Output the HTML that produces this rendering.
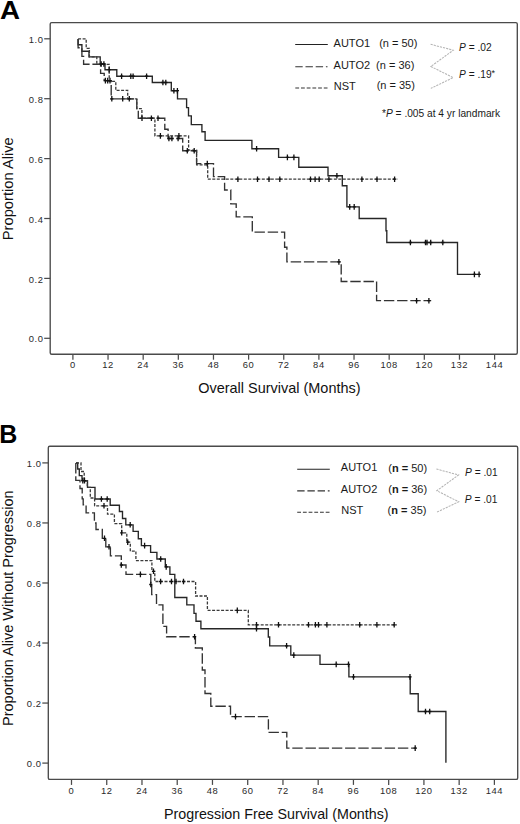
<!DOCTYPE html>
<html><head><meta charset="utf-8"><style>
html,body{margin:0;padding:0;background:#fff;width:520px;height:824px;overflow:hidden}
svg{display:block}
text{font-family:"Liberation Sans", sans-serif;fill:#1a1a1a}
.tk{font-size:9.4px;fill:#2a2a2a;letter-spacing:0.6px}
.pl{font-size:25px;font-weight:bold;fill:#000}
.at{font-size:14.4px;fill:#111}
.lg{font-size:11px;fill:#1a1a1a}
.pv{font-size:10.2px;fill:#1a1a1a}
.lg2{font-size:10.2px;fill:#1a1a1a}
.ls{stroke:#222;stroke-width:1.1}
.ld{stroke:#333;stroke-width:1.1;stroke-dasharray:7.4 2.8}
.lo{stroke:#333;stroke-width:1.1;stroke-dasharray:3.8 1.9}
.zz{fill:none;stroke:#b4b4b4;stroke-width:1.05;stroke-dasharray:2.2 1}
.cs{stroke:#111;stroke-width:1.3;fill:none}
.c1{fill:none;stroke:#262626;stroke-width:1.35}
.c2{fill:none;stroke:#333;stroke-width:1.35;stroke-dasharray:10.4 2.8}
.c3{fill:none;stroke:#3a3a3a;stroke-width:1.3;stroke-dasharray:3 1.5}
</style></head><body>
<svg width="520" height="824" viewBox="0 0 520 824">
<rect x="50.2" y="22.6" width="467.10" height="331.60" rx="1.5" fill="none" stroke="#4a4a4a" stroke-width="1.35"/>
<line x1="44.20" y1="338.30" x2="50.20" y2="338.30" stroke="#4a4a4a" stroke-width="1.25"/>
<text x="43.60" y="342.40" text-anchor="end" class="tk">0.0</text>
<line x1="44.20" y1="278.40" x2="50.20" y2="278.40" stroke="#4a4a4a" stroke-width="1.25"/>
<text x="43.60" y="282.50" text-anchor="end" class="tk">0.2</text>
<line x1="44.20" y1="218.50" x2="50.20" y2="218.50" stroke="#4a4a4a" stroke-width="1.25"/>
<text x="43.60" y="222.60" text-anchor="end" class="tk">0.4</text>
<line x1="44.20" y1="158.60" x2="50.20" y2="158.60" stroke="#4a4a4a" stroke-width="1.25"/>
<text x="43.60" y="162.70" text-anchor="end" class="tk">0.6</text>
<line x1="44.20" y1="98.70" x2="50.20" y2="98.70" stroke="#4a4a4a" stroke-width="1.25"/>
<text x="43.60" y="102.80" text-anchor="end" class="tk">0.8</text>
<line x1="44.20" y1="38.80" x2="50.20" y2="38.80" stroke="#4a4a4a" stroke-width="1.25"/>
<text x="43.60" y="42.90" text-anchor="end" class="tk">1.0</text>
<line x1="72.90" y1="354.20" x2="72.90" y2="359.70" stroke="#4a4a4a" stroke-width="1.25"/>
<text x="72.90" y="368.30" text-anchor="middle" class="tk">0</text>
<line x1="108.04" y1="354.20" x2="108.04" y2="359.70" stroke="#4a4a4a" stroke-width="1.25"/>
<text x="108.04" y="368.30" text-anchor="middle" class="tk">12</text>
<line x1="143.18" y1="354.20" x2="143.18" y2="359.70" stroke="#4a4a4a" stroke-width="1.25"/>
<text x="143.18" y="368.30" text-anchor="middle" class="tk">24</text>
<line x1="178.33" y1="354.20" x2="178.33" y2="359.70" stroke="#4a4a4a" stroke-width="1.25"/>
<text x="178.33" y="368.30" text-anchor="middle" class="tk">36</text>
<line x1="213.47" y1="354.20" x2="213.47" y2="359.70" stroke="#4a4a4a" stroke-width="1.25"/>
<text x="213.47" y="368.30" text-anchor="middle" class="tk">48</text>
<line x1="248.61" y1="354.20" x2="248.61" y2="359.70" stroke="#4a4a4a" stroke-width="1.25"/>
<text x="248.61" y="368.30" text-anchor="middle" class="tk">60</text>
<line x1="283.75" y1="354.20" x2="283.75" y2="359.70" stroke="#4a4a4a" stroke-width="1.25"/>
<text x="283.75" y="368.30" text-anchor="middle" class="tk">72</text>
<line x1="318.89" y1="354.20" x2="318.89" y2="359.70" stroke="#4a4a4a" stroke-width="1.25"/>
<text x="318.89" y="368.30" text-anchor="middle" class="tk">84</text>
<line x1="354.03" y1="354.20" x2="354.03" y2="359.70" stroke="#4a4a4a" stroke-width="1.25"/>
<text x="354.03" y="368.30" text-anchor="middle" class="tk">96</text>
<line x1="389.18" y1="354.20" x2="389.18" y2="359.70" stroke="#4a4a4a" stroke-width="1.25"/>
<text x="389.18" y="368.30" text-anchor="middle" class="tk">108</text>
<line x1="424.32" y1="354.20" x2="424.32" y2="359.70" stroke="#4a4a4a" stroke-width="1.25"/>
<text x="424.32" y="368.30" text-anchor="middle" class="tk">120</text>
<line x1="459.46" y1="354.20" x2="459.46" y2="359.70" stroke="#4a4a4a" stroke-width="1.25"/>
<text x="459.46" y="368.30" text-anchor="middle" class="tk">132</text>
<line x1="494.60" y1="354.20" x2="494.60" y2="359.70" stroke="#4a4a4a" stroke-width="1.25"/>
<text x="494.60" y="368.30" text-anchor="middle" class="tk">144</text>
<rect x="48.3" y="446.2" width="469.40" height="333.20" rx="1.5" fill="none" stroke="#4a4a4a" stroke-width="1.35"/>
<line x1="42.30" y1="763.10" x2="48.30" y2="763.10" stroke="#4a4a4a" stroke-width="1.25"/>
<text x="41.70" y="767.20" text-anchor="end" class="tk">0.0</text>
<line x1="42.30" y1="703.06" x2="48.30" y2="703.06" stroke="#4a4a4a" stroke-width="1.25"/>
<text x="41.70" y="707.16" text-anchor="end" class="tk">0.2</text>
<line x1="42.30" y1="643.02" x2="48.30" y2="643.02" stroke="#4a4a4a" stroke-width="1.25"/>
<text x="41.70" y="647.12" text-anchor="end" class="tk">0.4</text>
<line x1="42.30" y1="582.98" x2="48.30" y2="582.98" stroke="#4a4a4a" stroke-width="1.25"/>
<text x="41.70" y="587.08" text-anchor="end" class="tk">0.6</text>
<line x1="42.30" y1="522.94" x2="48.30" y2="522.94" stroke="#4a4a4a" stroke-width="1.25"/>
<text x="41.70" y="527.04" text-anchor="end" class="tk">0.8</text>
<line x1="42.30" y1="462.90" x2="48.30" y2="462.90" stroke="#4a4a4a" stroke-width="1.25"/>
<text x="41.70" y="467.00" text-anchor="end" class="tk">1.0</text>
<line x1="71.50" y1="779.40" x2="71.50" y2="784.90" stroke="#4a4a4a" stroke-width="1.25"/>
<text x="71.50" y="793.60" text-anchor="middle" class="tk">0</text>
<line x1="106.74" y1="779.40" x2="106.74" y2="784.90" stroke="#4a4a4a" stroke-width="1.25"/>
<text x="106.74" y="793.60" text-anchor="middle" class="tk">12</text>
<line x1="141.98" y1="779.40" x2="141.98" y2="784.90" stroke="#4a4a4a" stroke-width="1.25"/>
<text x="141.98" y="793.60" text-anchor="middle" class="tk">24</text>
<line x1="177.22" y1="779.40" x2="177.22" y2="784.90" stroke="#4a4a4a" stroke-width="1.25"/>
<text x="177.22" y="793.60" text-anchor="middle" class="tk">36</text>
<line x1="212.47" y1="779.40" x2="212.47" y2="784.90" stroke="#4a4a4a" stroke-width="1.25"/>
<text x="212.47" y="793.60" text-anchor="middle" class="tk">48</text>
<line x1="247.71" y1="779.40" x2="247.71" y2="784.90" stroke="#4a4a4a" stroke-width="1.25"/>
<text x="247.71" y="793.60" text-anchor="middle" class="tk">60</text>
<line x1="282.95" y1="779.40" x2="282.95" y2="784.90" stroke="#4a4a4a" stroke-width="1.25"/>
<text x="282.95" y="793.60" text-anchor="middle" class="tk">72</text>
<line x1="318.19" y1="779.40" x2="318.19" y2="784.90" stroke="#4a4a4a" stroke-width="1.25"/>
<text x="318.19" y="793.60" text-anchor="middle" class="tk">84</text>
<line x1="353.43" y1="779.40" x2="353.43" y2="784.90" stroke="#4a4a4a" stroke-width="1.25"/>
<text x="353.43" y="793.60" text-anchor="middle" class="tk">96</text>
<line x1="388.68" y1="779.40" x2="388.68" y2="784.90" stroke="#4a4a4a" stroke-width="1.25"/>
<text x="388.68" y="793.60" text-anchor="middle" class="tk">108</text>
<line x1="423.92" y1="779.40" x2="423.92" y2="784.90" stroke="#4a4a4a" stroke-width="1.25"/>
<text x="423.92" y="793.60" text-anchor="middle" class="tk">120</text>
<line x1="459.16" y1="779.40" x2="459.16" y2="784.90" stroke="#4a4a4a" stroke-width="1.25"/>
<text x="459.16" y="793.60" text-anchor="middle" class="tk">132</text>
<line x1="494.40" y1="779.40" x2="494.40" y2="784.90" stroke="#4a4a4a" stroke-width="1.25"/>
<text x="494.40" y="793.60" text-anchor="middle" class="tk">144</text>
<text transform="translate(0.1,18.8) scale(1.11,1)" class="pl">A</text>
<text x="-0.8" y="442.7" class="pl">B</text>
<text transform="translate(12.8,240.2) rotate(-90)" class="at" textLength="103" lengthAdjust="spacingAndGlyphs">Proportion Alive</text>
<text x="198.2" y="393" class="at" textLength="162.4" lengthAdjust="spacingAndGlyphs">Overall Survival (Months)</text>
<text transform="translate(12.8,725.9) rotate(-90)" class="at" textLength="235.4" lengthAdjust="spacingAndGlyphs">Proportion Alive Without Progression</text>
<text x="164" y="819.2" class="at" textLength="224.6" lengthAdjust="spacingAndGlyphs">Progression Free Survival (Months)</text>
<line x1="295.2" y1="44.5" x2="327.8" y2="44.5" class="ls"/>
<line x1="295.3" y1="66.8" x2="327.5" y2="66.8" class="ld"/>
<line x1="295.3" y1="88" x2="327.5" y2="88" class="lo"/>
<text x="333.6" y="46.8" class="lg">AUTO1</text>
<text x="333.6" y="68.8" class="lg">AUTO2</text>
<text x="333.8" y="89.6" class="lg">NST</text>
<text x="379.2" y="46.7" class="lg">(n = 50)</text>
<text x="376.1" y="68.6" class="lg">(n = 36)</text>
<text x="376.7" y="89.2" class="lg">(n = 35)</text>
<polyline points="430.6,44.3 453.3,50.2 430.8,66.5 453.2,77.6 430.8,88.4" class="zz"/>
<text x="459" y="50.6" class="pv"><tspan font-style="italic">P</tspan> = .02</text>
<text x="459" y="78.2" class="pv"><tspan font-style="italic">P</tspan> = .19<tspan font-size="9" dy="-2.2">*</tspan></text>
<text x="382" y="116.6" class="lg2">*<tspan font-style="italic">P</tspan> = .005 at 4 yr landmark</text>
<line x1="297.2" y1="469.2" x2="329.8" y2="469.2" class="ls"/>
<line x1="297.2" y1="490.9" x2="329.6" y2="490.9" class="ld"/>
<line x1="297.2" y1="512.2" x2="329.6" y2="512.2" class="lo"/>
<text x="340.8" y="471.4" class="lg">AUTO1</text>
<text x="340.8" y="492.8" class="lg">AUTO2</text>
<text x="341.2" y="514" class="lg">NST</text>
<text x="388.3" y="471.6" class="lg">(<tspan font-weight="bold">n =</tspan> 50)</text>
<text x="388.3" y="493" class="lg">(<tspan font-weight="bold">n =</tspan> 36)</text>
<text x="387.6" y="513.8" class="lg">(<tspan font-weight="bold">n =</tspan> 35)</text>
<polyline points="436.4,469 458.5,475 436.8,490.7 458.7,501.8 436.8,512.2" class="zz"/>
<text x="465" y="475.9" class="pv"><tspan font-style="italic">P</tspan> = .01</text>
<text x="464.8" y="502.6" class="pv"><tspan font-style="italic">P</tspan> = .01</text>
<g transform="translate(0.4,0.4)">
<path d="M 77.7 38.5 V 44.3 H 81.5 V 50.8 H 88.6 V 56.5 H 99.8 V 63.6 H 104.6 V 69.3 H 116.4 V 75.8 H 151.9 V 82.1 H 170.9 V 90.3 H 177.1 V 98.5 H 186.2 V 107.2 H 188.1 V 115.5 H 190.9 V 124.2 H 201.5 V 131.3 H 204.7 V 140 H 251.5 V 148.3 H 278.2 V 157 H 298.4 V 166.9 H 327.6 V 175.4 H 341.9 V 185.3 H 346.5 V 206.5 H 358.8 V 218.1 H 385.6 V 230.4 H 386.4 V 242.1 H 457.1 V 274 H 479.6" class="c1"/>
<path d="M 77.7 38.5 V 47.3 H 81.5 V 55.9 H 83.2 V 63.8 H 100.2 V 73 H 103.8 V 80.2 H 110.8 V 98.4 H 136.4 V 108.2 H 137.9 V 117.8 H 164.4 V 128.8 H 167.7 V 138.1 H 182.3 V 150.4 H 196.2 V 163.2 H 213.1 V 176.2 H 224.2 V 189.6 H 230.4 V 203.5 H 235.8 V 216.5 H 251.9 V 231.7 H 284.2 V 246.9 H 286.5 V 261.5 H 340.8 V 281.1 H 376.2 V 300.3 H 430.8" class="c2"/>
<path d="M 77.7 38.5 H 85.8 V 48 H 89 V 56.5 H 96.4 V 64 H 108.8 V 81 H 115.4 V 90 H 127.3 V 98.5 H 136.4 V 108.2 H 141.5 V 117.8 H 154.5 V 135.5 H 188.2 V 149.8 H 196.2 V 164.5 H 207.3 V 178.8 H 396.9" class="c3"/>
<path d="M100.8 60.80V66.40M99.20 63.6H102.40" class="cs"/>
<path d="M103.5 60.80V66.40M101.90 63.6H105.10" class="cs"/>
<path d="M108.8 66.50V72.10M107.20 69.3H110.40" class="cs"/>
<path d="M121.2 73.00V78.60M119.60 75.8H122.80" class="cs"/>
<path d="M130.4 73.00V78.60M128.80 75.8H132.00" class="cs"/>
<path d="M132.7 73.00V78.60M131.10 75.8H134.30" class="cs"/>
<path d="M146.2 73.00V78.60M144.60 75.8H147.80" class="cs"/>
<path d="M162.5 79.30V84.90M160.90 82.1H164.10" class="cs"/>
<path d="M165.4 79.30V84.90M163.80 82.1H167.00" class="cs"/>
<path d="M173.5 87.50V93.10M171.90 90.3H175.10" class="cs"/>
<path d="M177 87.50V93.10M175.40 90.3H178.60" class="cs"/>
<path d="M256.2 145.50V151.10M254.60 148.3H257.80" class="cs"/>
<path d="M287 154.20V159.80M285.40 157H288.60" class="cs"/>
<path d="M293.5 154.20V159.80M291.90 157H295.10" class="cs"/>
<path d="M336.5 172.60V178.20M334.90 175.4H338.10" class="cs"/>
<path d="M349.3 203.70V209.30M347.70 206.5H350.90" class="cs"/>
<path d="M353.8 203.70V209.30M352.20 206.5H355.40" class="cs"/>
<path d="M410 239.30V244.90M408.40 242.1H411.60" class="cs"/>
<path d="M425.1 239.30V244.90M423.50 242.1H426.70" class="cs"/>
<path d="M426.6 239.30V244.90M425.00 242.1H428.20" class="cs"/>
<path d="M430.3 239.30V244.90M428.70 242.1H431.90" class="cs"/>
<path d="M442.4 239.30V244.90M440.80 242.1H444.00" class="cs"/>
<path d="M474 271.20V276.80M472.40 274H475.60" class="cs"/>
<path d="M478.7 271.20V276.80M477.10 274H480.30" class="cs"/>
<path d="M105 77.40V83.00M103.40 80.2H106.60" class="cs"/>
<path d="M107.3 77.40V83.00M105.70 80.2H108.90" class="cs"/>
<path d="M109.6 77.40V83.00M108.00 80.2H111.20" class="cs"/>
<path d="M111.4 95.60V101.20M109.80 98.4H113.00" class="cs"/>
<path d="M122.3 95.60V101.20M120.70 98.4H123.90" class="cs"/>
<path d="M128.9 95.60V101.20M127.30 98.4H130.50" class="cs"/>
<path d="M141.6 115.00V120.60M140.00 117.8H143.20" class="cs"/>
<path d="M151 115.00V120.60M149.40 117.8H152.60" class="cs"/>
<path d="M157.6 115.00V120.60M156.00 117.8H159.20" class="cs"/>
<path d="M168.5 135.30V140.90M166.90 138.1H170.10" class="cs"/>
<path d="M171.5 135.30V140.90M169.90 138.1H173.10" class="cs"/>
<path d="M177.7 135.30V140.90M176.10 138.1H179.30" class="cs"/>
<path d="M186.9 147.60V153.20M185.30 150.4H188.50" class="cs"/>
<path d="M193.8 147.60V153.20M192.20 150.4H195.40" class="cs"/>
<path d="M206.9 160.40V166.00M205.30 163.2H208.50" class="cs"/>
<path d="M338.5 258.70V264.30M336.90 261.5H340.10" class="cs"/>
<path d="M416.2 297.50V303.10M414.60 300.3H417.80" class="cs"/>
<path d="M428.5 297.50V303.10M426.90 300.3H430.10" class="cs"/>
<path d="M160 132.70V138.30M158.40 135.5H161.60" class="cs"/>
<path d="M178.5 132.70V138.30M176.90 135.5H180.10" class="cs"/>
<path d="M237.5 176.00V181.60M235.90 178.8H239.10" class="cs"/>
<path d="M257.1 176.00V181.60M255.50 178.8H258.70" class="cs"/>
<path d="M268.6 176.00V181.60M267.00 178.8H270.20" class="cs"/>
<path d="M279.4 176.00V181.60M277.80 178.8H281.00" class="cs"/>
<path d="M310.1 176.00V181.60M308.50 178.8H311.70" class="cs"/>
<path d="M314.7 176.00V181.60M313.10 178.8H316.30" class="cs"/>
<path d="M318.8 176.00V181.60M317.20 178.8H320.40" class="cs"/>
<path d="M328.5 176.00V181.60M326.90 178.8H330.10" class="cs"/>
<path d="M361.5 176.00V181.60M359.90 178.8H363.10" class="cs"/>
<path d="M376.6 176.00V181.60M375.00 178.8H378.20" class="cs"/>
<path d="M394.2 176.00V181.60M392.60 178.8H395.80" class="cs"/>
</g><g>
<path d="M 76 463 H 77.7 V 469 H 79.3 V 475.6 H 82 V 480.6 H 87.5 V 487.3 H 95 V 499 H 110.2 V 505.2 H 119.4 V 511.5 H 122.5 V 518.5 H 125.8 V 524.8 H 133.1 V 531.3 H 138.3 V 538.7 H 141.4 V 545.6 H 150.6 V 552.3 H 156.9 V 559 H 165.3 V 566.9 H 169.9 V 574.3 H 174.8 V 597.5 H 186.8 V 604.8 H 194 V 613.3 H 196 V 621.2 H 200.9 V 628.7 H 268.3 V 637 H 269.7 V 645.8 H 290.8 V 655.1 H 320 V 664.4 H 348.9 V 676.9 H 410.2 V 693.7 H 418.2 V 711.5 H 445.9 V 762.8" class="c1"/>
<path d="M 75.8 463 V 480.3 H 80 V 488.5 H 82.2 V 498.8 H 83.2 V 504.7 H 86.1 V 512.8 H 94.4 V 523 H 96 V 529.5 H 102.3 V 538.3 H 105.8 V 546.8 H 110.4 V 555.9 H 121.3 V 565 H 126 V 574.4 H 150.8 V 584.5 H 151.7 V 594.6 H 156.5 V 604.8 H 162.9 V 626.3 H 166.6 V 636.7 H 195.4 V 648 H 202.3 V 670 H 205 V 693.5 H 210.8 V 706.2 H 230.5 V 716.6 H 268.4 V 732.3 H 286.8 V 748.1 H 416.5" class="c2"/>
<path d="M 76 463 H 81 V 471.5 H 84.2 V 481 H 87.3 V 487.3 H 90.3 V 498 H 94.6 V 505.8 H 107.5 V 514.2 H 114.4 V 523.6 H 121.7 V 532.8 H 126.8 V 542.2 H 130.3 V 551.2 H 135.9 V 560.6 H 151.9 V 571.3 H 154.8 V 581.5 H 195.6 V 596 H 207.4 V 610.4 H 248.3 V 624.8 H 396.9" class="c3"/>
<path d="M82.8 477.80V483.40M81.20 480.6H84.40" class="cs"/>
<path d="M84.5 477.80V483.40M82.90 480.6H86.10" class="cs"/>
<path d="M101.4 496.20V501.80M99.80 499H103.00" class="cs"/>
<path d="M107.2 496.20V501.80M105.60 499H108.80" class="cs"/>
<path d="M130.2 522.00V527.60M128.60 524.8H131.80" class="cs"/>
<path d="M144.6 542.80V548.40M143.00 545.6H146.20" class="cs"/>
<path d="M160.7 556.20V561.80M159.10 559H162.30" class="cs"/>
<path d="M166.2 564.10V569.70M164.60 566.9H167.80" class="cs"/>
<path d="M256.5 625.90V631.50M254.90 628.7H258.10" class="cs"/>
<path d="M286.6 643.00V648.60M285.00 645.8H288.20" class="cs"/>
<path d="M293.8 652.30V657.90M292.20 655.1H295.40" class="cs"/>
<path d="M336.2 661.60V667.20M334.60 664.4H337.80" class="cs"/>
<path d="M348.5 661.60V667.20M346.90 664.4H350.10" class="cs"/>
<path d="M353.5 674.10V679.70M351.90 676.9H355.10" class="cs"/>
<path d="M410 674.10V679.70M408.40 676.9H411.60" class="cs"/>
<path d="M425.5 708.70V714.30M423.90 711.5H427.10" class="cs"/>
<path d="M429.7 708.70V714.30M428.10 711.5H431.30" class="cs"/>
<path d="M104.5 535.50V541.10M102.90 538.3H106.10" class="cs"/>
<path d="M109 544.00V549.60M107.40 546.8H110.60" class="cs"/>
<path d="M121.3 562.20V567.80M119.70 565H122.90" class="cs"/>
<path d="M140.4 571.60V577.20M138.80 574.4H142.00" class="cs"/>
<path d="M150.8 581.70V587.30M149.20 584.5H152.40" class="cs"/>
<path d="M194.6 633.90V639.50M193.00 636.7H196.20" class="cs"/>
<path d="M235.5 713.80V719.40M233.90 716.6H237.10" class="cs"/>
<path d="M415.2 745.30V750.90M413.60 748.1H416.80" class="cs"/>
<path d="M104 503.00V508.60M102.40 505.8H105.60" class="cs"/>
<path d="M121.7 530.00V535.60M120.10 532.8H123.30" class="cs"/>
<path d="M127.7 539.40V545.00M126.10 542.2H129.30" class="cs"/>
<path d="M153.5 568.50V574.10M151.90 571.3H155.10" class="cs"/>
<path d="M160.6 578.70V584.30M159.00 581.5H162.20" class="cs"/>
<path d="M171.5 578.70V584.30M169.90 581.5H173.10" class="cs"/>
<path d="M176 578.70V584.30M174.40 581.5H177.60" class="cs"/>
<path d="M183.5 578.70V584.30M181.90 581.5H185.10" class="cs"/>
<path d="M237.3 607.60V613.20M235.70 610.4H238.90" class="cs"/>
<path d="M256.5 622.00V627.60M254.90 624.8H258.10" class="cs"/>
<path d="M278.5 622.00V627.60M276.90 624.8H280.10" class="cs"/>
<path d="M308.5 622.00V627.60M306.90 624.8H310.10" class="cs"/>
<path d="M315.4 622.00V627.60M313.80 624.8H317.00" class="cs"/>
<path d="M318.5 622.00V627.60M316.90 624.8H320.10" class="cs"/>
<path d="M326.9 622.00V627.60M325.30 624.8H328.50" class="cs"/>
<path d="M359.7 622.00V627.60M358.10 624.8H361.30" class="cs"/>
<path d="M376.9 622.00V627.60M375.30 624.8H378.50" class="cs"/>
<path d="M394.2 622.00V627.60M392.60 624.8H395.80" class="cs"/>
</g>
</svg>
</body></html>
